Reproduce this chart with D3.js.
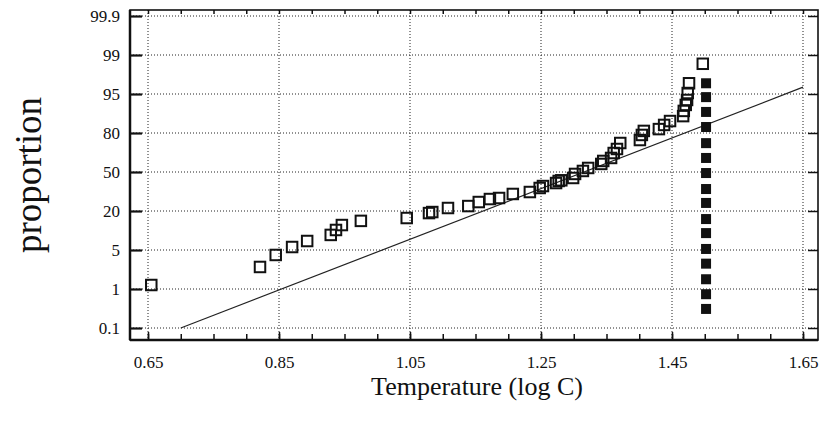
<!DOCTYPE html>
<html>
<head>
<meta charset="utf-8">
<script src="https://cdn.jsdelivr.net/npm/d3@7"></script>
<style>
    body { margin: 0; background: #fff; }
    text { font-family: "Liberation Serif", "Times New Roman", serif; fill: #111; }
</style>
</head>
<body>
<div id="chart"></div>
<script>

// probability axis labels and temperature ticks
const propTicks = [0.1, 1, 5, 20, 50, 80, 95, 99, 99.9];
const tempTicks = [0.65, 0.85, 1.05, 1.25, 1.45, 1.65];
const tempMinor = [0.65, 0.70, 0.75, 0.80, 0.85, 0.90, 0.95, 1.00, 1.05, 1.10, 1.15, 1.20,
    1.25, 1.30, 1.35, 1.40, 1.45, 1.50, 1.55, 1.60, 1.65];

// observed (open squares)
const obsTemp = [0.655, 0.821, 0.845, 0.870, 0.893, 0.929, 0.937, 0.946, 0.975, 1.045,
    1.079, 1.084, 1.108, 1.139, 1.155, 1.172, 1.186, 1.207, 1.233, 1.248,
    1.253, 1.273, 1.277, 1.281, 1.299, 1.302, 1.314, 1.322, 1.342, 1.345,
    1.357, 1.361, 1.366, 1.371, 1.401, 1.404, 1.407, 1.430, 1.438, 1.447,
    1.467, 1.468, 1.471, 1.473, 1.474, 1.476, 1.497];
const obsProp = [1.41, 3.26, 4.49, 6.15, 8.46, 10.8, 12.7, 14.6, 16.2, 17.3,
    19.2, 19.6, 22.3, 23.8, 26.9, 29.2, 30.0, 33.1, 34.6, 37.7,
    39.2, 41.5, 43.1, 43.6, 45.4, 48.5, 50.8, 53.1, 56.2, 58.5,
    60.8, 64.6, 67.7, 72.3, 74.6, 78.5, 80.8, 81.5, 83.1, 84.6,
    86.5, 88.5, 90.8, 92.7, 95.1, 96.1, 98.1];

// filled squares
const fillTemp = [1.502, 1.502, 1.502, 1.502, 1.502, 1.502, 1.502, 1.502,
    1.502, 1.502, 1.502, 1.502, 1.502, 1.502, 1.502, 1.502];
const fillProp = [96.1, 93.8, 88.1, 82.3, 72.2, 60.8, 49.2, 36.9,
    26.2, 16.9, 11.5, 5.4, 3.6, 2.0, 0.88, 0.54];

// fitted line end points
const fitTemp = [0.70, 1.65];
const fitProp = [0.1, 95.7];

const margin = {top: 10, right: 2, bottom: 82, left: 130};
const width = 820 - margin.left - margin.right;
const height = 422 - margin.top - margin.bottom;

const svg = d3.select("#chart").append("svg")
    .attr("width", 820)
    .attr("height", 422);

const g = svg.append("g")
    .attr("transform", "translate(" + margin.left + "," + margin.top + ")");

const x = d3.scaleLinear()
    .domain([0.65, 1.65])
    .range([18, 673]);

// labels are evenly spaced on the axis, so use a piecewise scale
const yTop = 6, yBot = 318;
const y = d3.scaleLinear()
    .domain(propTicks)
    .range(propTicks.map((d, i) => yBot - i * (yBot - yTop) / (propTicks.length - 1)));

// dotted grid
g.selectAll(".vgrid")
    .data(tempTicks)
    .enter().append("line")
    .attr("class", "vgrid")
    .attr("x1", d => x(d)).attr("x2", d => x(d))
    .attr("y1", 0).attr("y2", height)
    .attr("stroke", "#222")
    .attr("stroke-width", 1)
    .attr("stroke-dasharray", "1,2");

g.selectAll(".hgrid")
    .data(propTicks)
    .enter().append("line")
    .attr("class", "hgrid")
    .attr("x1", 0).attr("x2", width)
    .attr("y1", d => y(d)).attr("y2", d => y(d))
    .attr("stroke", "#222")
    .attr("stroke-width", 1)
    .attr("stroke-dasharray", "1,2");

// axes
g.append("g")
    .attr("class", "axis x-minor")
    .attr("transform", "translate(0," + height + ")")
    .call(d3.axisBottom(x).tickValues(tempMinor).tickSize(-6).tickFormat(""));

g.append("g")
    .attr("class", "axis x-axis")
    .attr("transform", "translate(0," + height + ")")
    .call(d3.axisBottom(x).tickValues(tempTicks).tickSize(-8).tickPadding(16)
        .tickFormat(d3.format(".2f")));

g.append("g")
    .attr("class", "axis x-top")
    .call(d3.axisTop(x).tickValues(tempMinor).tickSize(-4).tickFormat(""));

g.append("g")
    .attr("class", "axis y-axis")
    .call(d3.axisLeft(y).tickValues(propTicks).tickSize(-12).tickPadding(10)
        .tickFormat(d => d));

g.append("g")
    .attr("class", "axis y-right")
    .attr("transform", "translate(" + width + ",0)")
    .call(d3.axisRight(y).tickValues(propTicks).tickSize(-10).tickFormat(""));

g.selectAll(".axis .domain").remove();
g.selectAll(".axis line").attr("stroke", "#111").attr("stroke-width", 1.5);
g.selectAll(".y-axis line").attr("stroke-width", 2.2);
g.selectAll(".axis text")
    .style("font-family", "'Liberation Serif', 'Times New Roman', serif")
    .style("font-size", "17px")
    .attr("fill", "#111");

// frame
g.append("rect")
    .attr("x", 0).attr("y", 0)
    .attr("width", width).attr("height", height)
    .attr("fill", "none")
    .attr("stroke", "#111")
    .attr("stroke-width", 1.6);
g.append("line")
    .attr("x1", 0).attr("x2", 0).attr("y1", 0).attr("y2", height)
    .attr("stroke", "#111").attr("stroke-width", 2.5);
g.append("line")
    .attr("x1", 0).attr("x2", width).attr("y1", height).attr("y2", height)
    .attr("stroke", "#111").attr("stroke-width", 2.5);

// fitted line
g.append("line")
    .attr("x1", x(fitTemp[0])).attr("y1", y(fitProp[0]))
    .attr("x2", x(fitTemp[1])).attr("y2", y(fitProp[1]))
    .attr("stroke", "#222")
    .attr("stroke-width", 1.2);

// open squares
const s = 10.5;
g.selectAll(".obs")
    .data(obsTemp.map((t, i) => ({t: t, p: obsProp[i]})))
    .enter().append("rect")
    .attr("class", "obs")
    .attr("x", d => x(d.t) - s / 2)
    .attr("y", d => y(d.p) - s / 2)
    .attr("width", s).attr("height", s)
    .attr("fill", "none")
    .attr("stroke", "#111")
    .attr("stroke-width", 2);

// filled squares
const f = 10;
g.selectAll(".fill")
    .data(fillTemp.map((t, i) => ({t: t, p: fillProp[i]})))
    .enter().append("rect")
    .attr("class", "fill")
    .attr("x", d => x(d.t) - f / 2)
    .attr("y", d => y(d.p) - f / 2)
    .attr("width", f).attr("height", f)
    .attr("fill", "#111");

// titles
svg.append("text")
    .attr("transform", "translate(41," + (margin.top + height / 2) + ") rotate(-90)")
    .attr("text-anchor", "middle")
    .style("font-size", "37px")
    .text("proportion");

svg.append("text")
    .attr("x", margin.left + width / 2 + 3)
    .attr("y", 395)
    .attr("text-anchor", "middle")
    .style("font-size", "26px")
    .text("Temperature (log C)");

</script>
</body>
</html>
